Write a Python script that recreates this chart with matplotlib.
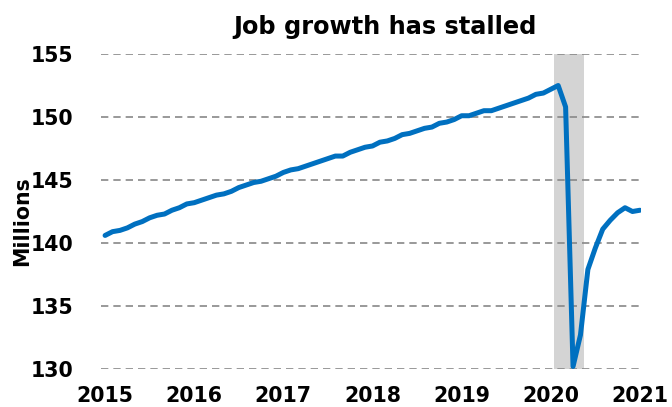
import matplotlib
matplotlib.use("Agg")
import matplotlib.pyplot as plt
import numpy as np

# Monthly total nonfarm employment (millions), Jan 2015 - Jan 2021
employment = [
    # 2015
    140.6, 140.9, 141.0, 141.2, 141.5, 141.7, 142.0, 142.2, 142.3, 142.6, 142.8, 143.1,
    # 2016
    143.2, 143.4, 143.6, 143.8, 143.9, 144.1, 144.4, 144.6, 144.8, 144.9, 145.1, 145.3,
    # 2017
    145.6, 145.8, 145.9, 146.1, 146.3, 146.5, 146.7, 146.9, 146.9, 147.2, 147.4, 147.6,
    # 2018
    147.7, 148.0, 148.1, 148.3, 148.6, 148.7, 148.9, 149.1, 149.2, 149.5, 149.6, 149.8,
    # 2019
    150.1, 150.1, 150.3, 150.5, 150.5, 150.7, 150.9, 151.1, 151.3, 151.5, 151.8, 151.9,
    # 2020
    152.2, 152.5, 150.8, 130.2, 132.7, 137.9, 139.6, 141.1, 141.8, 142.4, 142.8, 142.5,
    # 2021
    142.6,
]
year_labels = ["2015", "2016", "2017", "2018", "2019", "2020", "2021"]
y_ticks = [130, 135, 140, 145, 150, 155]
recession_start = 60.5   # months since Jan 2015
recession_end = 64.5

months = np.arange(len(employment))

fig = plt.figure(figsize=(6.72, 4.07), dpi=100)
ax = fig.add_axes([101 / 672, 1 - 369 / 407, 540 / 672, 315 / 407])

ax.axvspan(recession_start, recession_end, color="#d4d4d4", zorder=0, lw=0)
for yv in y_ticks:
    ax.axhline(yv, color="#888888", lw=1.2, dashes=(4.4, 3.0), zorder=1)
ax.plot(months, employment, color="#0070C0", lw=3.6, solid_capstyle="round",
        solid_joinstyle="round", zorder=3)

ax.set_xlim(-0.55, 72.15)
ax.set_ylim(130, 155)
ax.set_xticks(np.arange(0, 73, 12))
ax.set_xticklabels(year_labels)
ax.set_yticks(y_ticks)
for s in ax.spines.values():
    s.set_visible(False)
ax.tick_params(length=0, labelsize=14.8)
ax.tick_params(axis="y", pad=20)
ax.tick_params(axis="x", pad=12.5)
for lab in ax.get_xticklabels() + ax.get_yticklabels():
    lab.set_fontweight("bold")
ax.set_ylabel("Millions", fontsize=14.8, fontweight="bold")
ax.yaxis.set_label_coords(-0.128, 0.47)
fig.text(385 / 672, 1 - 34 / 407, "Job growth has stalled", fontsize=17.3,
         fontweight="bold", ha="center", va="baseline")

fig.savefig("out.png", dpi=100)
